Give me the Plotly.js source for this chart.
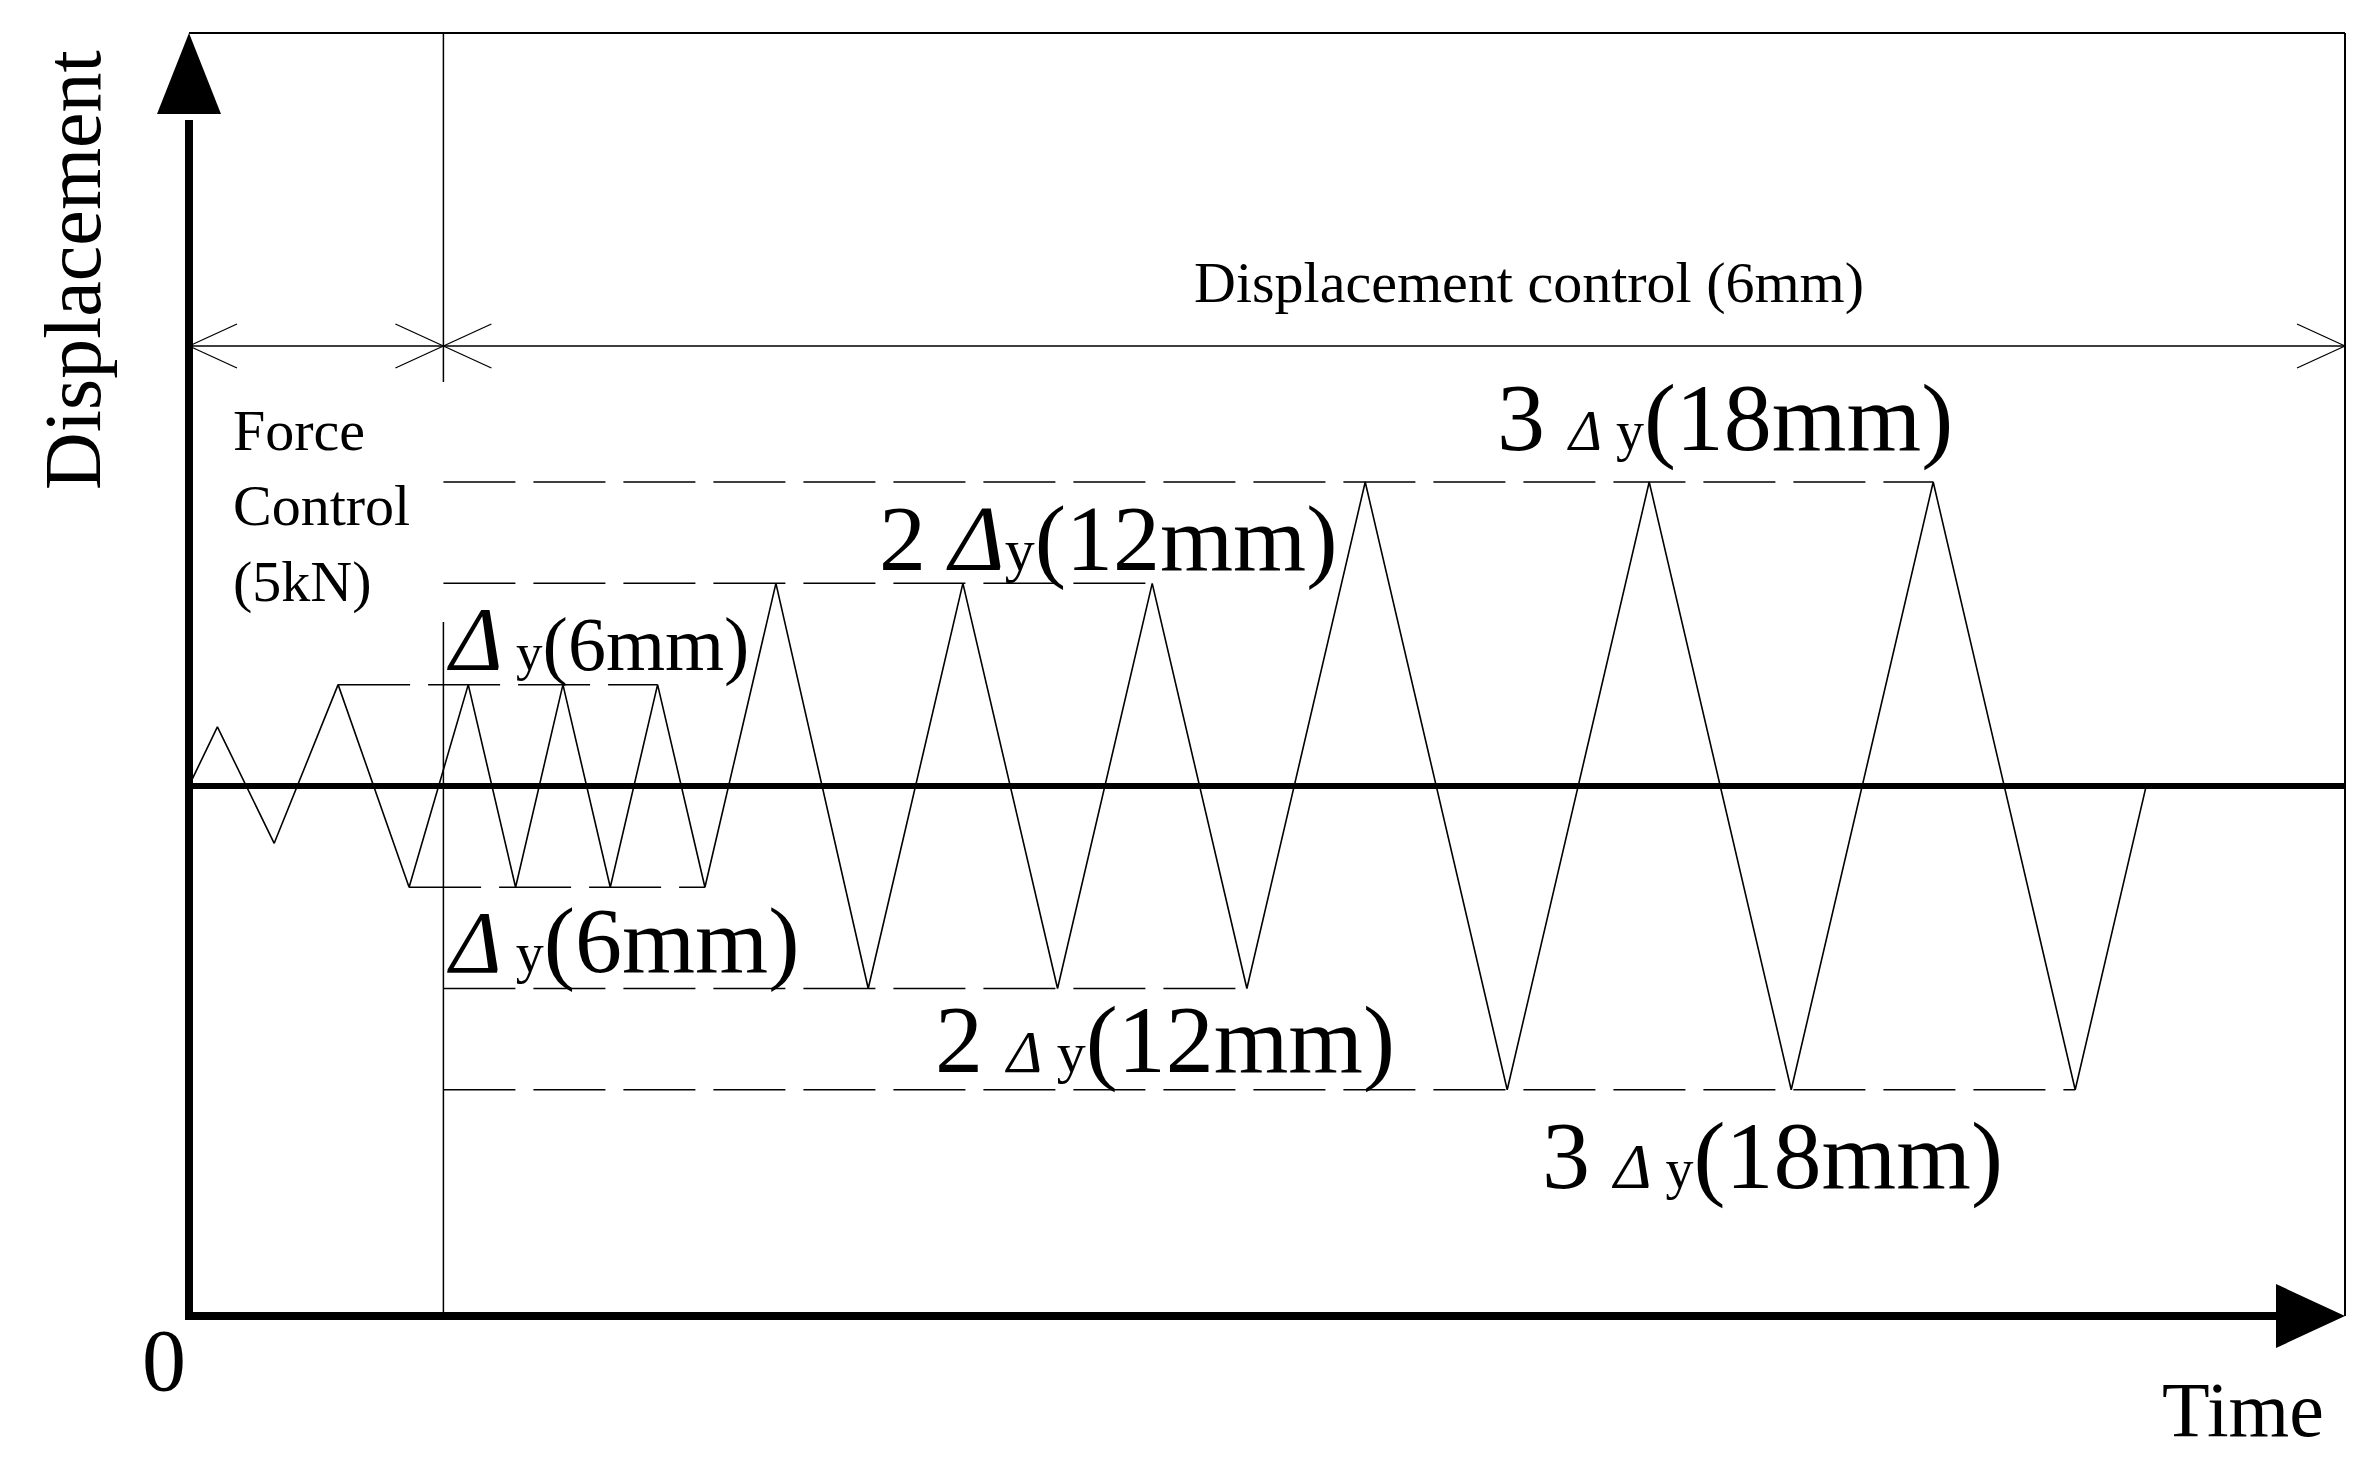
<!DOCTYPE html>
<html>
<head>
<meta charset="utf-8">
<script src="https://cdn.plot.ly/plotly-3.0.1.min.js"></script>
<style>
  html, body { margin: 0; padding: 0; background: #fff; }
  #chart { width: 2379px; height: 1471px; }
</style>
</head>
<body>
<div id="chart"></div>
<script>
// loading history: time (arbitrary units) vs displacement (mm)
const waveTime = [0, 1.2, 3.6, 6.3, 9.3, 11.8, 13.8, 15.8, 17.8, 19.8, 21.8,
  24.8, 28.7, 32.7, 36.7, 40.7, 44.7, 49.7, 55.7, 61.7, 67.7, 73.7, 79.7, 82.7];
const waveDisp = [0, 3.5, -3.4, 6, -6, 6, -6, 6, -6, 6, -6,
  12, -12, 12, -12, 12, -12, 18, -18, 18, -18, 18, -18, 0];

// dashed amplitude guides: level, where they start and stop
const guideDisp = [6, -6, 12, -12, 18, -18];
const guideFrom = [6.3, 9.3, 10.75, 10.75, 10.75, 10.75];
const guideTo = [19.8, 21.8, 40.7, 44.7, 73.7, 79.7];

const phaseSplit = 10.75; // force control -> displacement control
const timeRange = [0, 91.1];
const dispRange = [-31.4, 44.6];

const serif = "Liberation Serif, Times New Roman, serif";
const W = 2379, H = 1471;
const margin = { l: 189, r: 34, t: 33, b: 155, pad: 0 };
const PW = W - margin.l - margin.r;
const PH = H - margin.t - margin.b;
const px = X => (X - margin.l) / PW;
const py = Y => (H - margin.b - Y) / PH;

const waveTrace = {
  x: waveTime,
  y: waveDisp,
  type: "scatter",
  mode: "lines",
  line: { color: "#000", width: 1.6 },
  hoverinfo: "skip"
};

const guideTraces = guideDisp.map((d, i) => ({
  x: [guideFrom[i], guideTo[i]],
  y: [d, d],
  type: "scatter",
  mode: "lines",
  line: { color: "#000", width: 1.5, dash: "72px,18px" },
  hoverinfo: "skip"
}));

const seg = (x0, y0, x1, y1, width, xref) => ({
  type: "line",
  xref: xref || "paper",
  yref: "paper",
  x0, y0, x1, y1,
  line: { color: "#000", width }
});

// dimension line with open arrowheads
const dimY = 346;
const splitPix = margin.l + (phaseSplit - timeRange[0]) / (timeRange[1] - timeRange[0]) * PW;
const head = (tipX, dir) => [
  seg(px(tipX), py(dimY), px(tipX + dir * 48), py(dimY - 22), 1.3),
  seg(px(tipX), py(dimY), px(tipX + dir * 48), py(dimY + 22), 1.3)
];

const shapes = [
  // frame
  seg(0, 1, 1, 1, 2),
  seg(1, 0, 1, 1, 2),
  // axes
  seg(0, py(1320), 0, py(120), 8),
  seg(px(185), 0, px(2280), 0, 8),
  {
    type: "path", xref: "paper", yref: "paper",
    path: `M ${px(189)},${py(33)} L ${px(157)},${py(114)} L ${px(221)},${py(114)} Z`,
    fillcolor: "#000", line: { width: 0 }
  },
  {
    type: "path", xref: "paper", yref: "paper",
    path: `M ${px(2345)},${py(1316)} L ${px(2276)},${py(1284)} L ${px(2276)},${py(1348)} Z`,
    fillcolor: "#000", line: { width: 0 }
  },
  // phase divider
  seg(phaseSplit, 0, phaseSplit, py(622), 1.5, "x"),
  seg(phaseSplit, py(382), phaseSplit, 1, 1.5, "x"),
  // dimension line
  seg(0, py(dimY), 1, py(dimY), 1.3),
  ...head(margin.l, 1),
  ...head(splitPix, -1),
  ...head(splitPix, 1),
  ...head(W - margin.r, -1)
];

const note = (text, x, y, size, extra) => Object.assign({
  text, x, y, xref: "x", yref: "y",
  showarrow: false, xanchor: "left", yanchor: "middle", align: "left",
  font: { family: serif, size, color: "#000" }
}, extra || {});

const sized = (s, size) => `<span style="font-size:${size}px">${s}</span>`;
const delta = size => sized("<i>Δ</i>", size);

const annotations = [
  note("Displacement control (6mm)", 56.6, 29.85, 58, { xanchor: "center" }),
  note("Force<br>Control<br>(5kN)", 1.76, 16.6, 58),
  note(`${delta(90)}${sized(" y", 53)}(6mm)`, 10.8, 8.7, 76),
  note(`${delta(88)}${sized(" y", 56)}(6mm)`, 10.8, -9.1, 94),
  note(`2 ${delta(94)}${sized("y", 60)}(12mm)`, 29.07, 14.7, 94),
  note(`2 ${delta(60)}${sized(" y", 58)}(12mm)`, 31.45, -15.0, 96),
  note(`3 ${delta(56)}${sized(" y", 56)}(18mm)`, 55.17, 21.85, 96),
  note(`3 ${delta(64)}${sized(" y", 56)}(18mm)`, 57.1, -21.9, 96),
  note("Displacement", px(73), py(270), 80,
    { xref: "paper", yref: "paper", xanchor: "center", textangle: -90 }),
  note("0", px(164), py(1360), 88,
    { xref: "paper", yref: "paper", xanchor: "center" }),
  note("Time", px(2243), py(1409), 78,
    { xref: "paper", yref: "paper", xanchor: "center" })
];

const layout = {
  width: W,
  height: H,
  margin,
  showlegend: false,
  paper_bgcolor: "#fff",
  plot_bgcolor: "#fff",
  font: { family: serif, color: "#000" },
  xaxis: {
    range: timeRange,
    showgrid: false,
    zeroline: false,
    showline: false,
    showticklabels: false,
    ticks: ""
  },
  yaxis: {
    range: dispRange,
    showgrid: false,
    zeroline: true,
    zerolinecolor: "#000",
    zerolinewidth: 6,
    showline: false,
    showticklabels: false,
    ticks: ""
  },
  shapes,
  annotations
};

const config = { displayModeBar: false, staticPlot: true };

Plotly.newPlot("chart", [...guideTraces, waveTrace], layout, config);
</script>
</body>
</html>
